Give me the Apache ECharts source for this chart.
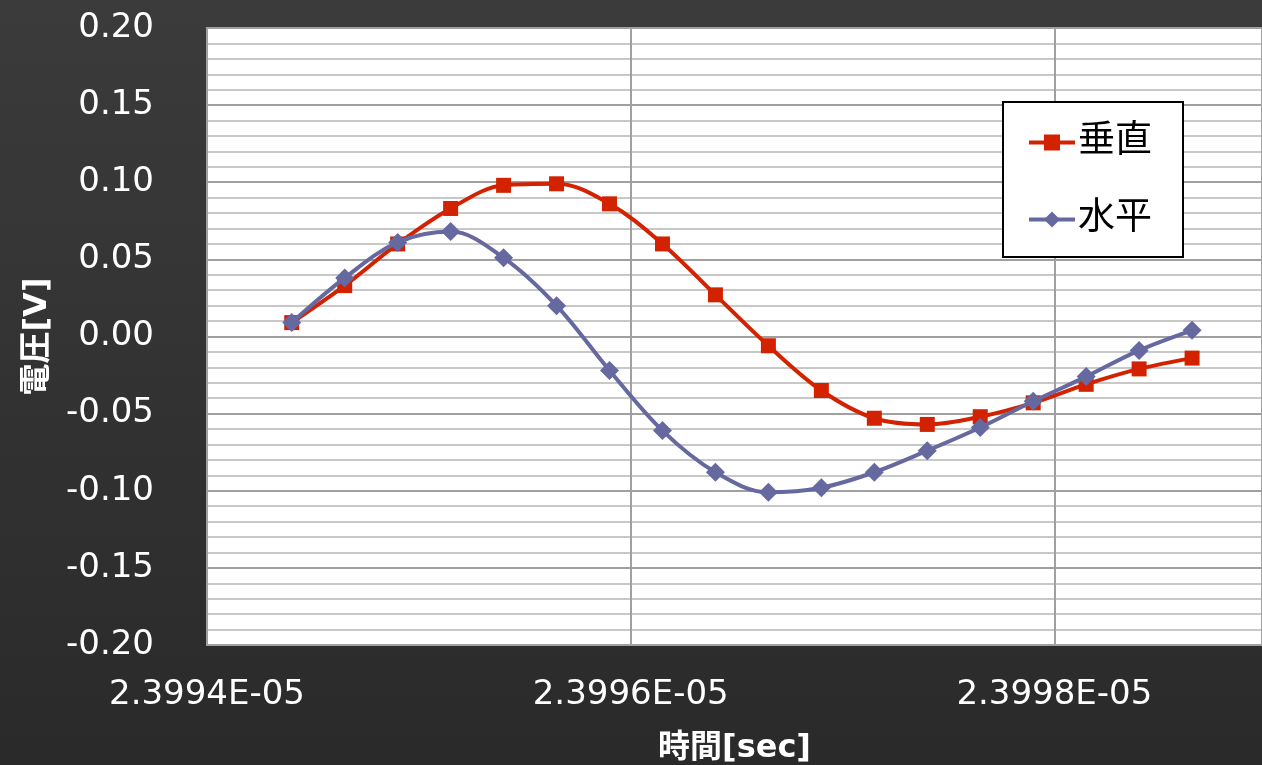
<!DOCTYPE html>
<html>
<head>
<meta charset="utf-8">
<script src="https://cdn.jsdelivr.net/npm/echarts@6/dist/echarts.min.js"></script>
<style>
html,body{margin:0;padding:0;background:#333;}
#chart{width:1262px;height:765px;}
</style>
</head>
<body>
<div id="chart"></div>
<script>
// time [sec]
const times = [2.399440e-5, 2.399465e-5, 2.399490e-5, 2.399515e-5, 2.399540e-5, 2.399565e-5,
               2.399590e-5, 2.399615e-5, 2.399640e-5, 2.399665e-5, 2.399690e-5, 2.399715e-5,
               2.399740e-5, 2.399765e-5, 2.399790e-5, 2.399815e-5, 2.399840e-5, 2.399865e-5];
// 垂直 [V]
const vertical = [0.009, 0.033, 0.060, 0.083, 0.098, 0.099, 0.086, 0.060, 0.027, -0.006,
                  -0.035, -0.053, -0.057, -0.052, -0.043, -0.031, -0.021, -0.014];
// 水平 [V]
const horizontal = [0.009, 0.038, 0.061, 0.068, 0.051, 0.020, -0.022, -0.061, -0.088, -0.101,
                    -0.098, -0.088, -0.074, -0.059, -0.042, -0.026, -0.009, 0.004];
const seriesNames = ['垂直', '水平'];
const xName = '時間[sec]';
const yName = '電圧[V]';

const FONT = '"DejaVu Sans", "Noto Sans CJK JP", sans-serif';
function fmtExp(v) {
  const s = Number(v).toExponential(4);
  const parts = s.split('e');
  const sign = parts[1][0] === '-' ? '-' : '+';
  const num = parts[1].replace(/^[+-]/, '').padStart(2, '0');
  return parts[0] + 'E' + sign + num;
}

const chart = echarts.init(document.getElementById('chart'), null, {renderer: 'canvas'});
chart.setOption({
  backgroundColor: {
    type: 'linear', x: 0, y: 0, x2: 0, y2: 1,
    colorStops: [{offset: 0, color: '#3b3b3b'}, {offset: 1, color: '#2a2a2a'}]
  },
  animation: false,
  grid: {
    left: 207, top: 28, right: 0, bottom: 120,
    outerBoundsMode: 'none', containLabel: false,
    show: true, backgroundColor: '#ffffff', borderColor: '#a0a0a0', borderWidth: 2
  },
  legend: {
    orient: 'vertical',
    left: 1003, top: 102,
    backgroundColor: '#ffffff',
    borderColor: '#000000', borderWidth: 2,
    padding: [22, 31, 19, 24],
    itemWidth: 46, itemHeight: 20,
    itemGap: 40,
    lineStyle: {width: 4},
    textStyle: {fontFamily: FONT, fontSize: 37, color: '#000', padding: [0, 0, 0, -2]},
    data: seriesNames
  },
  xAxis: {
    type: 'value',
    min: 2.3994e-5, max: 2.399898e-5, interval: 2e-9,
    name: xName, nameLocation: 'middle', nameGap: 88,
    nameTextStyle: {fontFamily: FONT, fontSize: 32, fontWeight: 'bold', color: '#ffffff'},
    axisLine: {show: false}, axisTick: {show: false},
    axisLabel: {color: '#ffffff', fontFamily: FONT, fontSize: 34, margin: 33,
                showMaxLabel: false, formatter: fmtExp},
    splitLine: {show: true, lineStyle: {color: '#a0a0a0', width: 2}}
  },
  yAxis: {
    type: 'value',
    min: -0.2, max: 0.2, interval: 0.05,
    name: yName, nameLocation: 'middle', nameGap: 153, nameRotate: 90,
    nameTextStyle: {fontFamily: FONT, fontSize: 32, fontWeight: 'bold', color: '#ffffff'},
    axisLine: {show: false}, axisTick: {show: false},
    axisLabel: {color: '#ffffff', fontFamily: FONT, fontSize: 34, margin: 53,
                formatter: v => v.toFixed(2)},
    minorTick: {show: false, splitNumber: 5},
    splitLine: {show: true, lineStyle: {color: '#a0a0a0', width: 2}},
    minorSplitLine: {show: true, lineStyle: {color: '#c8c8c8', width: 2}}
  },
  series: [
    {
      name: seriesNames[0], type: 'line', smooth: 0.35, smoothConstraint: false,
      data: times.map((t, i) => [t, vertical[i]]),
      symbol: 'rect', symbolSize: 15,
      itemStyle: {color: '#d32200'},
      lineStyle: {color: '#d32200', width: 4},
      z: 3
    },
    {
      name: seriesNames[1], type: 'line', smooth: 0.35, smoothConstraint: false,
      data: times.map((t, i) => [t, horizontal[i]]),
      symbol: 'diamond', symbolSize: 19,
      itemStyle: {color: '#6668a0'},
      lineStyle: {color: '#6668a0', width: 4},
      z: 4
    }
  ]
});
</script>
</body>
</html>
